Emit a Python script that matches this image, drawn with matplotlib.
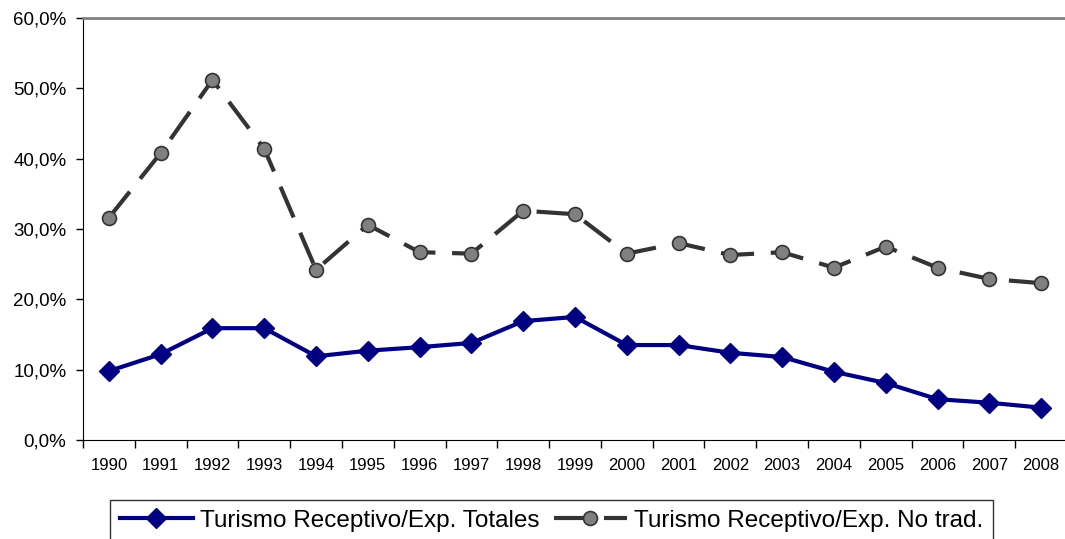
"""Turismo receptivo como porcentaje de las exportaciones, 1990-2008."""

import matplotlib
matplotlib.use("Agg")
import matplotlib.pyplot as plt
from matplotlib.ticker import FuncFormatter

years = [str(y) for y in range(1990, 2009)]

# Turismo Receptivo / Exportaciones Totales (%)
totales = [9.8, 12.2, 15.9, 15.9, 11.9, 12.7, 13.2, 13.8, 16.9, 17.5,
           13.5, 13.5, 12.4, 11.8, 9.7, 8.1, 5.8, 5.3, 4.6]

# Turismo Receptivo / Exportaciones No tradicionales (%)
no_trad = [31.6, 40.8, 51.2, 41.4, 24.2, 30.6, 26.7, 26.5, 32.6, 32.1,
           26.5, 28.0, 26.3, 26.7, 24.5, 27.5, 24.5, 22.9, 22.3]

label_totales = "Turismo Receptivo/Exp. Totales"
label_no_trad = "Turismo Receptivo/Exp. No trad."

plt.rcParams["font.family"] = ["Liberation Sans", "DejaVu Sans"]

fig = plt.figure(figsize=(10.65, 5.39), dpi=100)
ax = fig.add_axes([83 / 1065, 1 - 440 / 539, 984 / 1065, 422 / 539])

x = range(len(years))
ax.plot(x, totales, color="#000080", linewidth=3, marker="D", markersize=10.5,
        markerfacecolor="#000080", markeredgecolor="#000080",
        label=label_totales, zorder=3)
ax.plot(x, no_trad, color="#333333", linewidth=3, dashes=(8, 4),
        marker="o", markersize=10, markerfacecolor="#808080",
        markeredgecolor="#333333", markeredgewidth=1.2,
        label=label_no_trad, zorder=3)

ax.set_xlim(-0.5, len(years) - 0.5)
ax.set_ylim(0, 60)
ax.set_yticks(range(0, 61, 10))
ax.yaxis.set_major_formatter(FuncFormatter(lambda v, _: f"{v:.1f}%".replace(".", ",")))
ax.set_xticks(x)
ax.set_xticklabels(years, fontsize=12)
ax.set_xticks([i - 0.5 for i in range(len(years) + 1)], minor=True)
ax.tick_params(axis="x", which="major", length=0, pad=13)
ax.tick_params(axis="x", which="minor", length=6, width=1, color="black")
ax.tick_params(axis="y", length=5, width=1, labelsize=13.5, pad=7)

ax.spines["left"].set_color("black")
ax.spines["bottom"].set_color("black")
ax.spines["top"].set_color("#808080")
ax.spines["top"].set_linewidth(2)
ax.spines["right"].set_visible(False)

leg = fig.legend(loc="upper left", bbox_to_anchor=(110 / 1065, 1 - 500 / 539),
                 ncol=2, fontsize=17.5, frameon=True, fancybox=False,
                 edgecolor="black", handlelength=3.0, borderpad=0.4,
                 columnspacing=0.6, handletextpad=0.3, borderaxespad=0)
leg.get_frame().set_linewidth(1)

fig.savefig("out.png", dpi=100)
